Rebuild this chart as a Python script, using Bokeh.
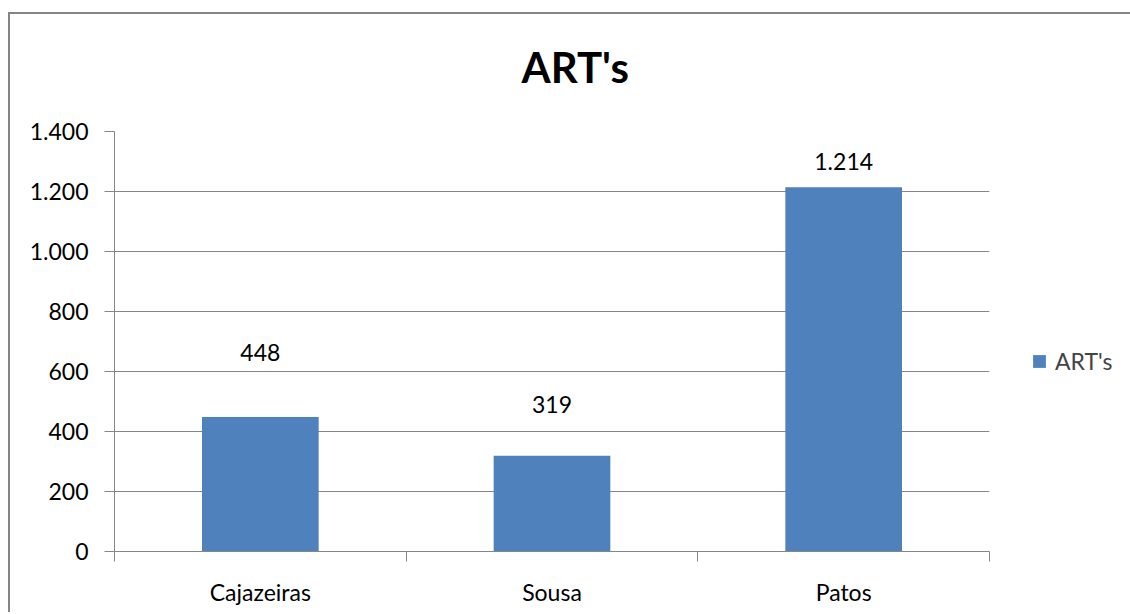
import numpy as np
from bokeh.plotting import figure
from bokeh.models import (ColumnDataSource, Range1d, FixedTicker, CustomJSTickFormatter,
                          Legend, LegendItem, Title)
from bokeh.core.properties import value
from bokeh.embed import file_html
from bokeh.resources import INLINE

# ---- data ----
categories = ["Cajazeiras", "Sousa", "Patos"]
values = [448, 319, 1214]
series_name = "ART's"
title_text = "ART's"
y_ticks = [0, 200, 400, 600, 800, 1000, 1200, 1400]

# ---- styling ----
FONT = "Lato"
GRID = "#868686"
BAR = "#4F81BD"
label_offsets = [65, 51, 26]  # px above bar tops (as placed in the original)

x_pos = np.arange(len(categories)) + 0.5
labels = [f"{v:,}".replace(",", ".") for v in values]
src = ColumnDataSource(dict(x=x_pos, top=values, label=labels,
                            off=[-o for o in label_offsets]))

p = figure(frame_width=875, frame_height=420,
           min_border_left=104, min_border_right=131,
           min_border_top=117, min_border_bottom=63,
           x_range=Range1d(0, len(categories)), y_range=Range1d(y_ticks[0], y_ticks[-1]),
           output_backend="svg", toolbar_location=None,
           background_fill_color="white", border_fill_color="white")
p.outline_line_color = None
# chart-area border on the left and top edges (the rest lies outside the window)
p.styles = {"margin-top": "14px", "margin-left": "10px",
            "box-shadow": f"-2px -2px 0 0 {GRID}"}

# spacer between title and plot area (nearest to the frame), then the title
spacer = Title(text=" ", text_font_size="1px", standoff=37)
p.add_layout(spacer, "above")
main_title = Title(text=title_text, text_font=FONT, text_font_size="42px",
                   text_font_style="bold", text_color="black",
                   align="left", offset=407, standoff=0, vertical_align="bottom")
p.add_layout(main_title, "above")

# bars
r = p.vbar(x="x", top="top", width=0.4, source=src, fill_color=BAR, line_color=None)

# data labels
p.text(x="x", y="top", text="label", y_offset="off", source=src,
       text_font=value(FONT), text_font_size="23px", text_color="black",
       text_align="center", text_baseline="middle")

# y axis
ya = p.yaxis[0]
ya.ticker = FixedTicker(ticks=y_ticks, minor_ticks=[])
ya.formatter = CustomJSTickFormatter(
    code="return tick.toString().replace(/\\B(?=(\\d{3})+(?!\\d))/g, '.');")
ya.axis_line_color = GRID
ya.major_tick_line_color = GRID
ya.major_tick_out = 10
ya.major_tick_in = 0
ya.minor_tick_line_color = None
ya.major_label_standoff = 16
ya.major_label_text_font = FONT
ya.major_label_text_font_size = "23px"
ya.major_label_text_color = "black"

# x axis
xa = p.xaxis[0]
xa.ticker = FixedTicker(ticks=list(x_pos), minor_ticks=list(range(len(categories) + 1)))
xa.major_label_overrides = {float(x): c for x, c in zip(x_pos, categories)}
xa.axis_line_color = GRID
xa.major_tick_line_color = None
xa.major_tick_out = 0
xa.major_tick_in = 0
xa.minor_tick_line_color = GRID
xa.minor_tick_out = 10
xa.minor_tick_in = 0
xa.major_label_standoff = 16
xa.major_label_text_font = FONT
xa.major_label_text_font_size = "23px"
xa.major_label_text_color = "black"

# grid
p.xgrid.grid_line_color = None
p.ygrid.grid_line_color = GRID
p.ygrid.grid_line_width = 1

# legend (placed in the right-hand panel)
legend = Legend(items=[LegendItem(label=series_name, renderers=[r])],
                location=(42, 176), orientation="vertical",
                label_text_font=FONT, label_text_font_size="23px",
                glyph_width=16, glyph_height=16, label_standoff=8,
                padding=0, margin=0, spacing=0,
                border_line_color=None, background_fill_alpha=0)
p.add_layout(legend, "right")

open("out.html", "w").write(file_html(p, INLINE))
